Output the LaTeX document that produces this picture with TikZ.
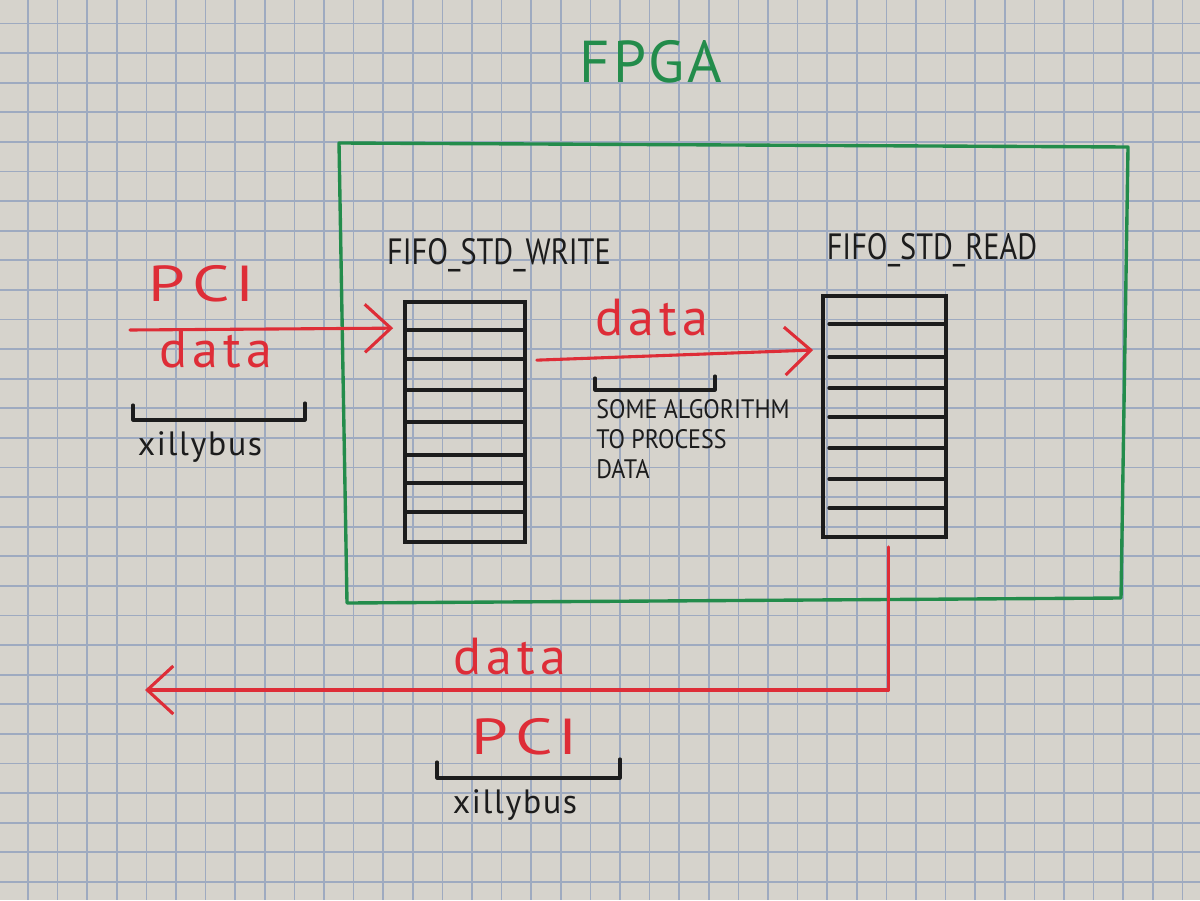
\documentclass[tikz,border=0pt]{standalone}
\usepackage{fontspec}
\setmainfont{PT Sans}
\newfontfamily\handfont[FakeStretch=0.83]{PT Sans}
\newfontfamily\notefont[FakeStretch=0.9]{PT Sans}
\newfontfamily\spacedfont[LetterSpace=10]{PT Sans}
\newfontfamily\lightspaced[LetterSpace=5]{PT Sans}
\newfontfamily\widefont[FakeStretch=1.3]{PT Sans}
\usetikzlibrary{arrows.meta,calc}
\definecolor{paper}{RGB}{214,211,204}
\definecolor{gridc}{RGB}{158,170,192}
\definecolor{pen}{RGB}{222,45,55}
\definecolor{fpgagreen}{RGB}{35,140,75}
\definecolor{ink}{RGB}{28,28,28}
\newcommand{\pcitext}{P\kern 5pt C\kern 4pt I}
\tikzset{
  gridline/.style={draw=gridc, line width=1.2pt},
  redarrow/.style={draw=pen, line width=2.2pt, line cap=round, line join=round,
    -{Straight Barb[length=6.5mm,width=12mm,line width=2.2pt]}},
  fifobox/.style={draw=ink, line width=2.6pt, rectangle, inner sep=0pt},
  fifoline/.style={draw=ink, line width=2.4pt, line cap=round},
  bracket/.style={draw=ink, line width=2.2pt, line cap=round, line join=round},
  pcitextstyle/.style={text=pen, font=\widefont\fontsize{36}{40}\selectfont, inner sep=0pt},
  datatext/.style={text=pen, font=\spacedfont\fontsize{37}{40}\selectfont, inner sep=0pt},
  inktext/.style={text=ink, font=\lightspaced\fontsize{24}{28}\selectfont, inner sep=0pt},
  fifolabel/.style={text=ink, font=\handfont\fontsize{26}{30}\selectfont, inner sep=0pt},
  notetext/.style={text=ink, font=\notefont\fontsize{19}{21.5}\selectfont, inner sep=0pt, align=left},
}
\begin{document}
\begin{tikzpicture}[x=0.025cm,y=-0.025cm]
\fill[paper] (0,0) rectangle (1200,900);
\useasboundingbox (0,0) rectangle (1200,900);
% grid paper
\foreach \i in {0,...,40} \draw[gridline] ({28+29.6*\i},0) -- ({28+29.6*\i},900);
\foreach \j in {0,...,30} \draw[gridline] (0,{23.5+29.6*\j}) -- (1200,{23.5+29.6*\j});

% FPGA
\node[text=fpgagreen, font=\lightspaced\fontsize{42}{46}\selectfont, inner sep=0pt] (fpgalabel) at (651,62) {FPGA};
\draw[fpgagreen, line width=2.4pt, line join=round] (339,143) -- (1128,147) -- (1121,598) -- (347,603) -- cycle;

% FIFOs
\node[fifobox, minimum width=3cm, minimum height=6cm] (wfifo) at (465,422) {};
\foreach \y in {330,359,390,422,455,483,512} \draw[fifoline] (407,\y) -- (524,\y);
\node[fifobox, minimum width=3.08cm, minimum height=6.03cm] (rfifo) at (884.5,416.5) {};
\foreach \y in {324,357,388,417,448,479,508} \draw[fifoline] (829,\y) -- (946,\y);

\node[fifolabel] (wlabel) at (499,255) {FIFO\_STD\_WRITE};
\node[fifolabel] (rlabel) at (932,250) {FIFO\_STD\_READ};

% input
\coordinate (pcisrc) at (130,330);
\draw[redarrow] (pcisrc) -- ($(wfifo.north west)+(-10,28)$);
\node[pcitextstyle] (pcia) at (202,284) {\pcitext};
\node[datatext] (dataa) at (216,350) {data};
\draw[bracket] (133,405) -- (133,420) -- (305,420) -- (305,403);
\node[inktext] (xa) at (200,447) {xillybus};

% middle
\draw[redarrow] ($(wfifo.north east)+(10,60)$) -- ($(rfifo.north west)+(-8,56)$);
\node[datatext] (datab) at (652,318) {data};
\draw[bracket] (595,378) -- (595,390) -- (715,390) -- (715,376);
\node[notetext, anchor=north west] (algo) at (596,399) {SOME ALGORITHM\\TO PROCESS\\DATA};

% return
\coordinate (pcidst) at (145,690);
\draw[redarrow] ($(rfifo.south)+(4,8)$) |- (pcidst);
\node[datatext] (datac) at (510,657) {data};
\node[pcitextstyle] (pcic) at (525,737) {\pcitext};
\draw[bracket] (437,762) -- (437,778) -- (620,778) -- (620,759);
\node[inktext] (xc) at (515,805) {xillybus};
\end{tikzpicture}
\end{document}
